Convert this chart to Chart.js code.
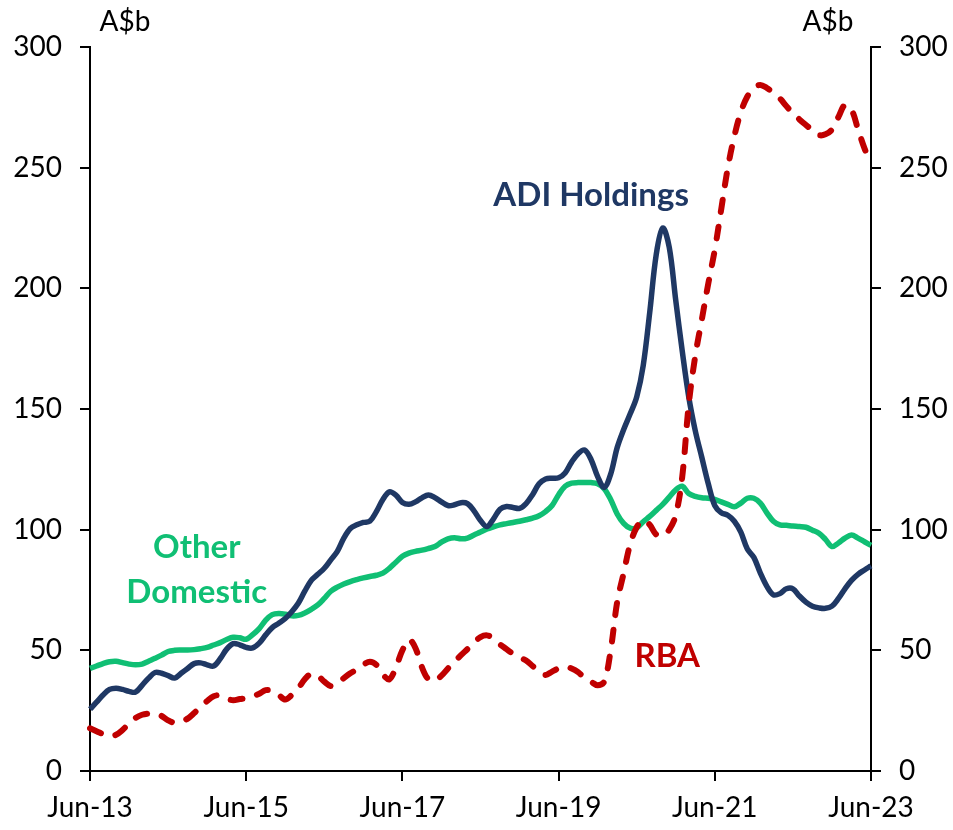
<!DOCTYPE html>
<html>
<head>
<meta charset="utf-8">
<script src="https://cdn.jsdelivr.net/npm/chart.js@4.4.1/dist/chart.umd.min.js"></script>
<style>
  html, body { margin: 0; padding: 0; background: #fff; }
  #wrap { width: 953px; height: 830px; }
</style>
</head>
<body>
<div id="wrap"><canvas id="chart" width="953" height="830"></canvas></div>
<script>
// monthly, Jun-13 .. Jun-23, A$b
const adiHoldings = [
    25.6, 28.5, 31.5, 33.8, 34.3, 33.8, 33, 32.7, 35.5, 38.5, 40.8, 40.5,
    39.5, 38.5, 40.5, 42.5, 44.5, 44.8, 44, 43.5, 46.5, 50.5, 52.8, 52.3,
    51.2, 51, 53, 56.4, 59.4, 61.2, 63.2, 66, 69.5, 74.5, 79, 81.5,
    84, 87.5, 91, 96.5, 100.5, 102, 103, 103.5, 107.5, 112.5, 115.7, 114.3,
    111.3, 110.5, 111.5, 113.2, 114.4, 113.3, 111.5, 110, 110.3, 111.2, 110.8, 107.8,
    103.8, 101.3, 104.5, 108.5, 109.6, 109.2, 108.8, 110.8, 114.5, 119, 121, 121.3,
    121.5, 123.5, 128, 131.5, 133, 129, 122, 117.5, 123, 134, 141.5, 148,
    155, 168, 190, 214, 225, 217, 195, 174, 155, 141, 130, 119,
    110, 107, 106, 103.5, 99, 92, 88.5, 82, 76.5, 73, 73.5, 75.5,
    75.5, 72.5, 70, 68.3, 67.6, 67.4, 68.3, 71.5, 75.5, 79, 81.5, 83.3,
    85
];
const otherDomestic = [
    42.5, 43.5, 44.5, 45.3, 45.5, 44.9, 44.3, 44, 44.3, 45.5, 46.7, 48,
    49.5, 50, 50.1, 50.1, 50.3, 50.7, 51.2, 52.2, 53.2, 54.5, 55.4, 55.2,
    54.6, 56.5, 59, 62.5, 64.8, 65.3, 65, 64.3, 64.5, 65.5, 67, 68.8,
    71.5, 74.5, 76.2, 77.5, 78.5, 79.3, 80, 80.6, 81.1, 82, 84, 86.5,
    89, 90.3, 91, 91.5, 92.2, 93, 94.8, 96.2, 96.7, 96.2, 96.5, 97.8,
    99, 100.3, 101.2, 102, 102.5, 103, 103.5, 104.1, 104.8, 105.8, 107.5, 110,
    114.5, 118, 119.3, 119.5, 119.5, 119.5, 119, 117, 112.5, 106.5, 102.6, 100.6,
    100.8, 103.3, 105.5, 108, 110.5, 113.5, 116.5, 118, 115, 113.8, 113.2, 113,
    112.5, 111.5, 110.5, 109.5, 111, 113, 113, 111, 107, 103.5, 102, 101.8,
    101.5, 101.3, 101, 99.8, 98.5, 96, 93, 94.5, 96.5, 97.8, 96.5, 95,
    93.5
];
const rba = [
    17.7, 16.5, 15.3, 14.5, 15, 17, 19.7, 22, 23.3, 23.8, 23.9, 22.8,
    21, 20, 20.5, 21.7, 24, 26.5, 29, 31, 31.3, 30, 29.3, 29.8,
    30.2, 31, 32, 33.5, 33.3, 31.5, 29.6, 31.5, 34.3, 38, 40.3, 39.5,
    37, 35.2, 36.5, 38.5, 40.5, 42, 44, 45.3, 44, 40, 38, 43,
    50, 54.5, 51, 43, 38, 37.5, 39.5, 42.5, 45.3, 48, 50.5, 53.2,
    55.5, 56.2, 55, 52.5, 50.5, 48.5, 47, 45.8, 43.5, 41.3, 39.8, 41.2,
    42.5, 43.2, 42.5, 41, 38.5, 37, 35.5, 37, 50, 70, 82, 94,
    101, 104, 102, 98, 97.5, 100, 106, 122, 152, 172, 187, 202,
    216, 233, 250, 263, 273, 279.5, 283, 284.3, 283, 281, 278.7, 275.5,
    272.5, 270, 267.7, 265.5, 263.5, 263.8, 265.8, 271, 276, 274, 266, 258,
    252
];
const yTicks = [0, 50, 100, 150, 200, 250, 300];

const monthNames = ['Jan', 'Feb', 'Mar', 'Apr', 'May', 'Jun', 'Jul', 'Aug', 'Sep', 'Oct', 'Nov', 'Dec'];
const labels = adiHoldings.map((v, i) => {
    const m = 5 + i;
    return monthNames[m % 12] + '-' + (13 + Math.floor(m / 12));
});

const NAVY = '#1f3864';
const GREEN = '#10bf74';
const RED = '#c00000';
const FONT = 'Lato, "Open Sans", sans-serif';

// series names written next to the lines, plus the unit labels
const labelPlugin = {
    id: 'labels',
    afterDraw(chart) {
        const ctx = chart.ctx;
        const x = chart.scales.x;
        const y = chart.scales.y;
        const area = chart.chartArea;
        ctx.save();
        ctx.textAlign = 'center';
        ctx.textBaseline = 'middle';
        ctx.fillStyle = '#000';
        ctx.font = '28px ' + FONT;
        ctx.fillText('A$b', area.left + 35, area.top - 25);
        ctx.fillText('A$b', area.right - 43, area.top - 25);

        ctx.font = 'bold 33px ' + FONT;
        ctx.fillStyle = NAVY;
        ctx.fillText('ADI Holdings', x.getPixelForValue(77), y.getPixelForValue(238.5));
        ctx.fillStyle = GREEN;
        ctx.fillText('Other', x.getPixelForValue(16.4), y.getPixelForValue(92.5));
        ctx.fillText('Domestic', x.getPixelForValue(16.4), y.getPixelForValue(74));
        ctx.fillStyle = RED;
        ctx.fillText('RBA', x.getPixelForValue(88.7), y.getPixelForValue(47.5));
        ctx.restore();
    }
};

const yAxis = (pos, width) => ({
    position: pos,
    min: 0,
    max: 300,
    afterBuildTicks: (s) => { s.ticks = yTicks.map(v => ({ value: v })); },
    afterFit: (s) => { s.width = width; },
    border: { display: true, color: '#000', width: 2 },
    grid: { drawOnChartArea: false, drawTicks: true, tickLength: 10, color: '#000', lineWidth: 2 },
    ticks: { color: '#000', padding: 18, font: { family: FONT, size: 28 } }
});

new Chart(document.getElementById('chart').getContext('2d'), {
    type: 'line',
    data: {
        labels: labels,
        datasets: [{
            label: 'RBA',
            data: rba,
            borderColor: RED,
            borderWidth: 6,
            borderDash: [12, 15],
            borderCapStyle: 'round',
            order: 1
        }, {
            label: 'ADI Holdings',
            data: adiHoldings,
            borderColor: NAVY,
            borderWidth: 5.5,
            order: 2
        }, {
            label: 'Other Domestic',
            data: otherDomestic,
            borderColor: GREEN,
            borderWidth: 5.5,
            order: 3
        }]
    },
    options: {
        responsive: false,
        animation: false,
        layout: { padding: { top: 47, left: 0, right: 0, bottom: 0 } },
        elements: {
            point: { radius: 0 },
            line: { tension: 0.35, borderJoinStyle: 'round' }
        },
        scales: {
            x: {
                afterFit: (s) => { s.height = 59; },
                border: { display: true, color: '#000', width: 2 },
                grid: { drawOnChartArea: false, drawTicks: true, tickLength: 10, color: '#000', lineWidth: 2 },
                ticks: {
                    autoSkip: false,
                    maxRotation: 0,
                    color: '#000',
                    padding: 10,
                    font: { family: FONT, size: 28 },
                    callback: (v, i) => (i % 24 === 0 ? labels[i] : null)
                }
            },
            y: yAxis('left', 90),
            y2: yAxis('right', 82)
        },
        plugins: {
            legend: { display: false },
            tooltip: { enabled: false }
        }
    },
    plugins: [labelPlugin]
});
</script>
</body>
</html>
